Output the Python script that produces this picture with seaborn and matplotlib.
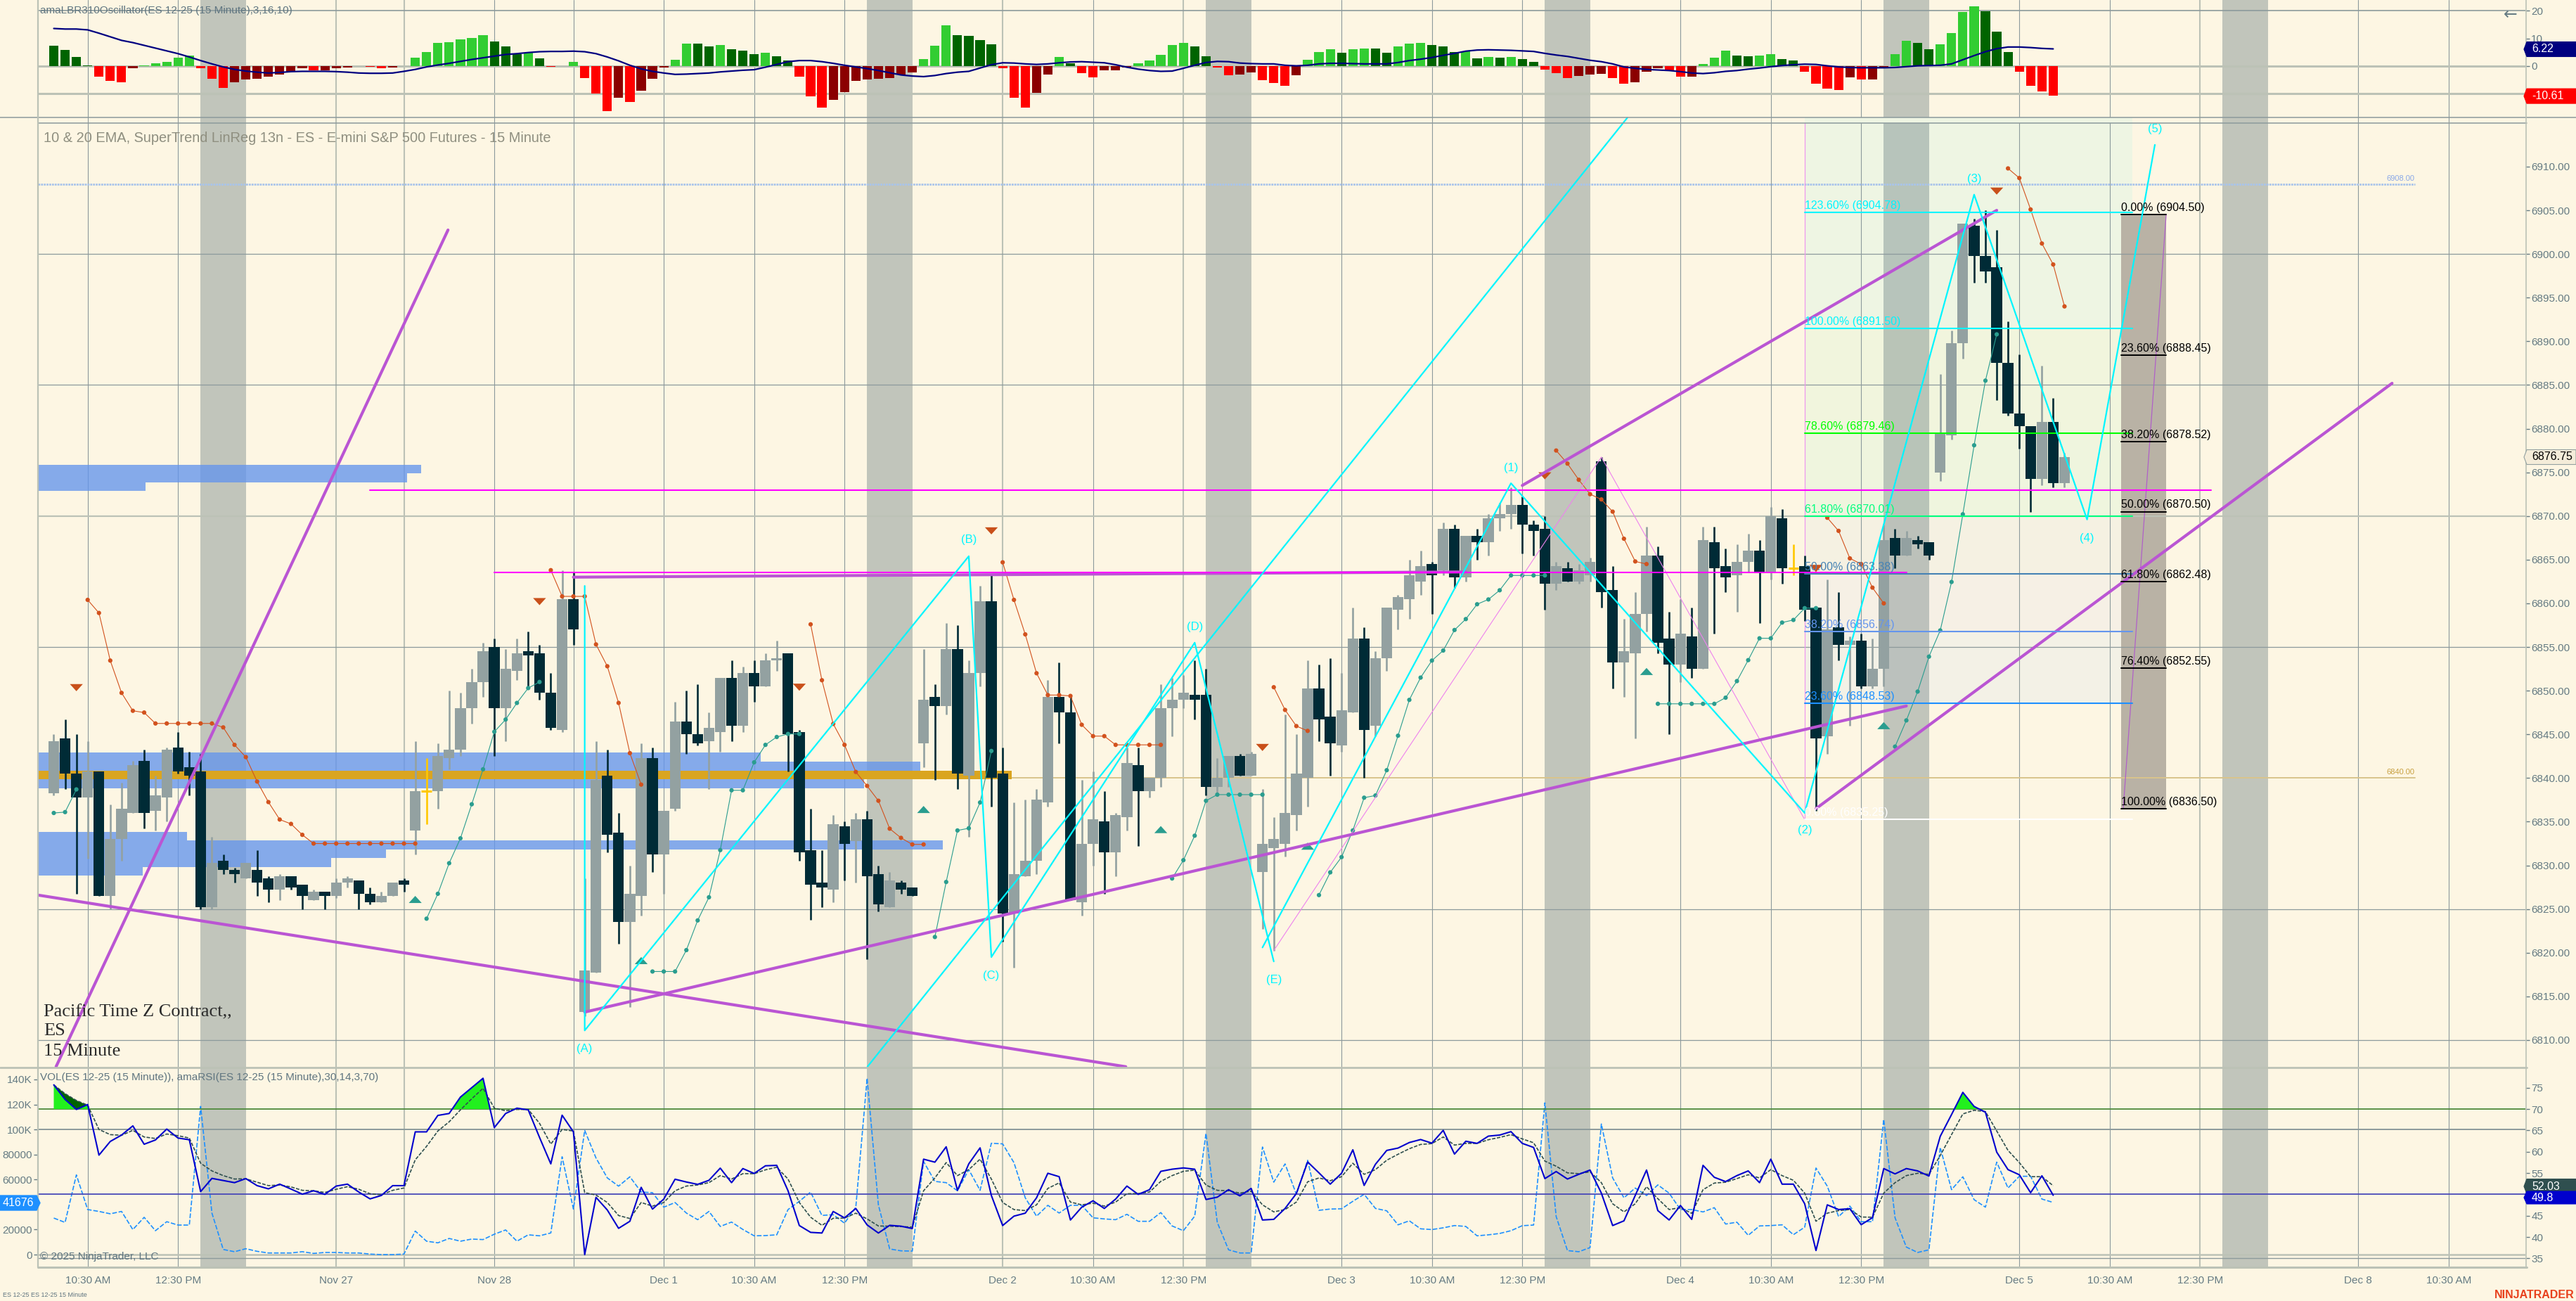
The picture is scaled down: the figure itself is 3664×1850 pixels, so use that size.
import numpy as np
import matplotlib
matplotlib.use("Agg")
import matplotlib.pyplot as plt
from matplotlib.lines import Line2D
from matplotlib.patches import Polygon
import seaborn as sns

W, H = 3664, 1850
BG = "#fdf6e3"
TXT = "#657b83"
GRID = "#8c9a9c"
LIGHT = "#bcc2b6"
CANDLE_UP = "#93a1a1"
CANDLE_DN = "#002b36"
DOJI = "#ffc800"
PURPLE = "#ba55d3"
CYAN = "#00f5ff"
MAGENTA = "#ff00ff"

# price bars, one per 15 minute session step
opens = [
    6838.25, 6844.5, 6840.5, 6837.75, 6840.75, 6826.5, 6833, 6836, 6842, 6836.25,
    6837.75, 6843.5, 6841.25, 6840.75, 6825.25, 6830.5, 6829.5, 6828.5, 6829.5, 6828.5,
    6827.25, 6828.75, 6827.75, 6826, 6827, 6826.5, 6828, 6828.25, 6826.75, 6825.75,
    6826.5, 6828.25, 6834, 6838.5, 6838.5, 6842.25, 6843.25, 6848, 6851, 6855,
    6848, 6852.25, 6854.5, 6854.25, 6849.75, 6845.5, 6860.5, 6813.25, 6817.75, 6840.25,
    6833.75, 6823.5, 6826.5, 6842.25, 6831.25, 6836.5, 6846.5, 6845, 6844.25, 6845.25,
    6851.5, 6846, 6852, 6850.5, 6853.5, 6854.25, 6845.25, 6831.75, 6828, 6827.25,
    6834.5, 6832.75, 6835.25, 6829, 6825.25, 6828, 6827.5, 6844, 6849.25, 6848.25,
    6854.75, 6840.25, 6852, 6860.25, 6840.5, 6824.5, 6828.75, 6830.5, 6837.25, 6849.25,
    6847.5, 6825.75, 6832.5, 6835, 6831.5, 6835.5, 6841.5, 6838.5, 6840, 6848,
    6849, 6849.5, 6849.5, 6839, 6840, 6842.5, 6840.25, 6829.25, 6832, 6832.5,
    6835.75, 6840, 6850.25, 6847, 6843.75, 6847.5, 6856, 6846, 6853.75, 6859.25,
    6860.5, 6862.5, 6864.5, 6863.75, 6868.5, 6863, 6867.75, 6867, 6869.75, 6870.25,
    6871.25, 6869, 6868.5, 6862.25, 6864, 6862.5, 6863.25, 6876.25, 6861.5, 6853.25,
    6854.25, 6858.75, 6865.5, 6856, 6853, 6856.25, 6852.5, 6867, 6864.25, 6863.25,
    6864.75, 6866, 6863.5, 6869.75, 6864, 6864.25, 6859.5, 6844.75, 6857.25, 6855.25,
    6855.75, 6850.5, 6852.5, 6867.5, 6865.5, 6867.25, 6867, 6875, 6879.25, 6889.75,
    6903.25, 6899.75, 6898.5, 6887.5, 6881.75, 6880.25, 6874.25, 6880.75, 6873.75,
]
highs = [
    6845, 6846.75, 6845, 6844.25, 6840.75, 6837, 6839.5, 6842, 6843.25, 6840.25,
    6843.5, 6845.25, 6843, 6842.75, 6833.25, 6831.25, 6829.75, 6830.25, 6831.75, 6828.75,
    6829, 6828.75, 6827.75, 6827.25, 6827, 6828.5, 6828.75, 6828.25, 6827.5, 6827,
    6828, 6828.5, 6844.25, 6842.25, 6844, 6850, 6849.75, 6852.5, 6855.5, 6856,
    6854.75, 6856, 6856.75, 6855.25, 6852, 6863.75, 6863.5, 6828.5, 6844.25, 6843.25,
    6836, 6830, 6844, 6843.5, 6836.25, 6848.75, 6850, 6850.75, 6847.5, 6851.5,
    6853.5, 6852.75, 6853.5, 6854.25, 6855.75, 6854.25, 6845.5, 6836.5, 6831.75, 6835.75,
    6835, 6836, 6836.25, 6830, 6829.25, 6828.25, 6827.5, 6854.75, 6850.75, 6857.75,
    6857.5, 6853.5, 6862, 6863.25, 6843.5, 6837.25, 6837.5, 6838.75, 6851.25, 6853.25,
    6849.25, 6839.75, 6840.75, 6838.5, 6836, 6843.5, 6843.5, 6840, 6850.75, 6851.5,
    6851.75, 6853.5, 6852.5, 6842.25, 6842.5, 6842.75, 6843, 6838.75, 6835.5, 6847.25,
    6845, 6853.5, 6853, 6853.75, 6852, 6859.5, 6857.25, 6854.5, 6859.5, 6861,
    6865, 6866, 6864.75, 6869.25, 6869, 6867.75, 6868.5, 6870.25, 6871.5, 6873.25,
    6872.25, 6869.5, 6870, 6864.75, 6864.75, 6864.5, 6865.25, 6876.75, 6864.25, 6858.25,
    6861.25, 6868.75, 6866.5, 6859, 6860.5, 6859.5, 6868.75, 6868.75, 6866.25, 6866.75,
    6868, 6867.25, 6871, 6870.75, 6866.75, 6865.5, 6859.5, 6862.75, 6861.25, 6856.25,
    6856.5, 6856, 6869, 6868.5, 6868.25, 6867.75, 6867, 6886.25, 6891.25, 6903.5,
    6904, 6905, 6902.75, 6892.25, 6888.5, 6880.25, 6887.25, 6883.5, 6877.25,
]
lows = [
    6838, 6838.75, 6826.75, 6830.75, 6826.5, 6825, 6830.5, 6836, 6834.25, 6834,
    6835, 6840.5, 6838, 6825, 6825, 6829, 6828, 6828.5, 6826.5, 6825.75,
    6826, 6827.25, 6825, 6826, 6825, 6826.25, 6827.5, 6825, 6825.5, 6825.75,
    6826.5, 6827, 6831.25, 6834.75, 6836.5, 6841, 6842.5, 6846.25, 6849.25, 6842.5,
    6844.25, 6851.25, 6850.25, 6849, 6845.5, 6845.25, 6855.25, 6812.75, 6817.75, 6831.5,
    6821, 6813.75, 6824.25, 6829.25, 6826.75, 6836.25, 6842.75, 6843.75, 6838.75, 6843,
    6844.25, 6845.25, 6848.75, 6850.5, 6852.25, 6840.75, 6830.5, 6823.75, 6825.25, 6825.75,
    6828.25, 6828, 6819.25, 6824.75, 6825.25, 6826.75, 6826.5, 6841.25, 6839.75, 6847.25,
    6838.75, 6833.25, 6850.5, 6836.75, 6821.25, 6818.25, 6828.75, 6829, 6836.75, 6844,
    6826, 6824.25, 6830, 6826.75, 6828.75, 6834, 6832.25, 6837.75, 6839, 6844.75,
    6848, 6846.75, 6838, 6838, 6839, 6840.25, 6840.25, 6822.75, 6820.25, 6831,
    6834, 6836.75, 6844.25, 6840.25, 6843, 6847.5, 6840, 6844.75, 6852.25, 6857,
    6858.25, 6861, 6858.75, 6863.25, 6861.75, 6862.5, 6865, 6865.5, 6868.25, 6868.5,
    6865.75, 6865.5, 6859.25, 6861.5, 6862.5, 6862.25, 6862.5, 6859.5, 6850.25, 6849.25,
    6844.5, 6856.75, 6854.25, 6845, 6851, 6851.5, 6852.5, 6856.5, 6861.25, 6859,
    6863.5, 6857.75, 6862.75, 6862.25, 6863.25, 6858, 6836.25, 6842.75, 6853.5, 6846,
    6850.25, 6850.25, 6850.5, 6864, 6865.5, 6866.25, 6865, 6874, 6878.75, 6888,
    6896.75, 6896.75, 6883.25, 6881.5, 6877.75, 6870.5, 6873.5, 6873.25, 6873.25,
]
closes = [
    6844.25, 6840.5, 6837.75, 6840.75, 6826.5, 6833, 6836.5, 6841.5, 6836, 6838,
    6843.25, 6840.75, 6840.25, 6825.25, 6830.25, 6829.5, 6829, 6830.25, 6828, 6827.25,
    6828.75, 6827.5, 6826.5, 6827, 6826.5, 6828, 6828.5, 6826.75, 6825.75, 6826.5,
    6828, 6827.75, 6838.5, 6838.5, 6842.5, 6843.25, 6848, 6851, 6854.5, 6848,
    6852.5, 6854.25, 6854, 6849.75, 6845.75, 6860.5, 6857, 6818, 6839.75, 6833.5,
    6823.5, 6826.75, 6842.25, 6831.25, 6836.25, 6846.5, 6845, 6844, 6845.75, 6851.5,
    6846, 6852, 6850.5, 6853.5, 6853.75, 6845, 6831.5, 6827.75, 6827.5, 6834.75,
    6832.5, 6835.25, 6828.75, 6825.5, 6828.25, 6827.25, 6826.5, 6849, 6848.25, 6854.75,
    6840.5, 6852, 6860.25, 6840, 6824.5, 6829, 6830.5, 6837.5, 6849.25, 6847.5,
    6826, 6832.5, 6835.25, 6831.5, 6835.75, 6841.75, 6838.5, 6840, 6848, 6849,
    6849.75, 6849, 6839, 6840, 6842.5, 6840.25, 6842.75, 6832.5, 6833, 6836,
    6840.5, 6850.25, 6846.75, 6844, 6847.75, 6856, 6845.5, 6853.75, 6859.5, 6860.75,
    6863.25, 6864.25, 6863.25, 6868.5, 6863, 6867.75, 6867, 6869.75, 6870.25, 6871.25,
    6869, 6868.25, 6862.25, 6864.25, 6862.5, 6863.75, 6864.75, 6861.25, 6853.25, 6854.5,
    6858.75, 6865.5, 6855.5, 6853, 6856.5, 6852.5, 6867.25, 6864, 6863, 6864.75,
    6866, 6863.5, 6870, 6864, 6864, 6859.25, 6844.5, 6857, 6855.25, 6855.75,
    6850.5, 6852.5, 6867.25, 6865.5, 6867.5, 6866.75, 6865.5, 6879.5, 6889.75, 6903.5,
    6899.75, 6898, 6887.5, 6881.75, 6880.25, 6874.25, 6880.75, 6873.75, 6876.75,
]
doji_bars = [33, 154]

# oscillator pane
osc_hist = [
    7.4, 5.85, 3.2, 0.25, -3.7, -5.3, -5.9, -0.85, 0.25, 0.93,
    1.5, 3.1, 3.7, -0.7, -4.5, -8, -5.9, -4.9, -4.5, -3.9,
    -3.05, -1.95, -0.75, -1.5, -1.5, -0.85, -0.4, 0.1, -0.25, -0.85,
    -0.4, 0.1, 3, 5.2, 8.4, 8.6, 9.7, 10.25, 11.1, 8.9,
    7, 4.4, 4.8, 2.8, -0.25, 0.1, 1.5, -4.3, -9.85, -16.3,
    -11.45, -13, -9, -4.5, -0.4, 2.2, 8.05, 8.05, 7.2, 7.6,
    6, 5.6, 4.3, 4.75, 3.55, 1.95, -3.9, -11, -15.1, -12.2,
    -9.4, -5.3, -4.9, -4.5, -4.3, -3.05, -2.3, 2.55, 7.4, 14.75,
    11.3, 10.85, 9.4, 7.9, -0.85, -11.35, -14.9, -9.65, -3.15, 3.3,
    1.1, -2.55, -4.15, -1.5, -1.5, -0.4, 1, 1.95, 4.15, 7.6,
    8.4, 7.2, 3.55, -0.5, -3.3, -2.95, -2.3, -5, -6, -7,
    -3.3, 2.3, 5.2, 6, 4.8, 6.2, 6.35, 6.25, 4.8, 7.2,
    8.05, 8.3, 7.6, 7, 5.1, 5.25, 2.8, 3.3, 3.1, 3.3,
    2.55, 1.5, -1.3, -2.55, -4.3, -3.55, -3.15, -2.8, -4.3, -6.25,
    -5.9, -1.95, -0.75, -1.7, -3.8, -3.8, 0.75, 3, 5.6, 3.8,
    3.55, 3.8, 4.25, 2.55, 1.95, -2.1, -6.35, -8.2, -8.65, -4.15,
    -4.85, -4.75, -0.7, 4.3, 9.05, 8.3, 6.2, 7.9, 11.95, 19.6,
    21.6, 19.9, 12.45, 5, -2.1, -7.2, -9.05, -10.61,
]
osc_signal = [
    13.6, 13.4, 13.4, 13.1, 11.9, 10.6, 9.3, 8.5, 7.5, 6.5,
    5.5, 4.5, 3.3, 2.0, 0.8, -0.3, -1.2, -1.8, -2.2, -2.5,
    -2.3, -2.0, -1.9, -1.9, -1.9, -2.0, -2.2, -2.5, -2.6, -2.6,
    -2.5, -1.9, -1.2, -0.3, 0.4, 1.0, 1.7, 2.4, 3.0, 3.6,
    4.2, 4.5, 4.9, 5.2, 5.3, 5.3, 5.4, 5.2, 4.5, 3.3,
    1.9, 0.3, -1.0, -1.9, -2.5, -3.0, -2.9, -2.7, -2.5, -2.1,
    -1.8, -1.5, -1.3, -0.4, 0.6, 1.6, 2.0, 2.0, 1.6, 1.0,
    0.3, -0.3, -0.9, -1.6, -2.4, -3.2, -3.6, -3.8, -3.4, -2.7,
    -2.2, -1.9, -0.7, 0.5, 1.2, 1.1, 0.8, 0.6, 0.8, 1.2,
    1.5, 1.6, 1.4, 1.2, 0.5, -0.4, -1.1, -1.6, -1.9, -1.8,
    -0.8, 0.3, 1.3, 1.7, 1.6, 1.1, 0.9, 0.8, 0.8, 0.3,
    0.1, 0.3, 0.8, 1.0, 1.0, 0.9, 0.8, 0.8, 0.8, 1.3,
    2.0, 2.5, 3.1, 3.9, 4.6, 5.4, 5.8, 5.9, 5.8, 5.7,
    5.5, 5.3, 4.6, 4.0, 3.5, 2.8, 2.1, 1.6, 0.8, -0.3,
    -0.8, -1.2, -1.4, -1.6, -2.0, -2.5, -2.7, -2.4, -1.9, -1.6,
    -1.1, -0.7, -0.2, 0.2, 0.5, 0.7, 0.6, 0.1, -0.3, -0.5,
    -0.6, -0.6, -0.6, -0.5, -0.2, 0.1, 0.2, 0.3, 0.8, 2.3,
    3.8, 5.2, 6.3, 6.9, 6.9, 6.7, 6.4, 6.22,
]

# volume (thousands) and RSI pane
volume_k = [
    29.2, 25.7, 63.7, 36, 34.5, 32.6, 34.5, 20, 29.8, 19.1,
    26.3, 23.6, 23.6, 118.5, 33.2, 4.1, 2.3, 4.7, 2.6, 1.3,
    1.3, 1.3, 2.3, 0.95, 1.7, 1.7, 1.3, 1.3, 0.4, 0,
    0, 0.4, 18.8, 10.7, 9.4, 12.9, 10.7, 12.4, 12, 16.3,
    19.7, 10.7, 15.8, 15, 17.3, 78.2, 36.4, 99.3, 77.2, 61.3,
    54.7, 62.2, 50, 49.5, 37.9, 41.6, 33.2, 27.9, 34.5, 22.5,
    26, 20.1, 15, 15.2, 15.8, 36, 42.6, 50, 31.3, 31.9,
    25.1, 37.9, 141, 39.7, 4.5, 3, 2.8, 74.4, 58.5, 57.5,
    51, 67.9, 51.4, 89, 88.5, 73.5, 45.4, 30.7, 39.4, 33.2,
    39.4, 39.4, 29.4, 28.5, 27.9, 32.2, 26.6, 26.6, 33.6, 22.9,
    19.1, 30.7, 96.9, 25.7, 3.8, 1.3, 1.3, 86, 57.9, 72.5,
    48.2, 75.4, 35.4, 36.4, 36.6, 42.6, 48.2, 36.9, 35, 23.8,
    27, 20.6, 20, 21.4, 23.2, 22.5, 15, 15.8, 16.9, 19.1,
    23.1, 23.6, 121.3, 30.4, 3.2, 2.3, 5.6, 104.4, 61.3, 45.4,
    53.2, 47.2, 55.7, 49.1, 36, 36, 34.1, 37.5, 24.4, 25.9,
    15.4, 22.9, 23.2, 23.8, 15.9, 21.9, 69.2, 54.7, 30.4, 38.8,
    26.3, 26.3, 108.1, 29.4, 6, 1.7, 3.8, 85.7, 51.9, 62.2,
    43.9, 37.9, 73.9, 53.2, 62.6, 62.6, 44.4, 41.68,
]
rsi_fast = [
    75.66, 72.25, 69.9, 71.05, 59.2, 62.4, 63.9, 66.05, 61.75, 62.75,
    65.3, 63.2, 62.8, 50.65, 53.75, 53.25, 52.75, 53.7, 52.05, 51.3,
    52.4, 51.25, 50.05, 50.85, 50, 51.95, 52.4, 50.55, 48.95, 49.75,
    52.05, 52.05, 64.65, 64.65, 68.5, 68.95, 72.8, 75, 77.2, 65.65,
    68.95, 70.2, 69.8, 63.35, 57.15, 68.55, 64.65, 35.9, 49.3, 46.35,
    42.05, 43.7, 51.65, 46.55, 48.9, 53.55, 52.9, 52.35, 53.3, 56.15,
    52.75, 56.05, 54.9, 56.7, 56.8, 50.85, 42.7, 41.1, 40.95, 46,
    44.5, 46.7, 42.85, 40.95, 42.75, 42.55, 42, 58.25, 57.55, 61.15,
    50.95, 57.15, 60.9, 49.75, 42.7, 44.9, 45.6, 49.2, 54.95, 54.15,
    44, 47, 48.5, 46.7, 48.9, 51.95, 50, 51.1, 55.4, 55.9,
    56.2, 55.9, 48.8, 49.35, 51.1, 49.65, 51.4, 44, 44.15, 46.7,
    50.2, 57.6, 55.05, 52.4, 54.95, 60.45, 52.1, 57.05, 60.3, 60.85,
    62.15, 62.85, 62, 65, 59.45, 62.45, 61.95, 63.65, 63.9, 64.7,
    61.95, 61, 53.7, 55.35, 53.6, 54.7, 55.7, 50.3, 42.7, 43.8,
    49.75, 55.7, 46.2, 44, 47.4, 44.15, 56.8, 54, 53, 54.4,
    55.5, 52.75, 58.25, 52.4, 52.4, 47.8, 36.85, 47.55, 46.45, 46.65,
    42.9, 44.55, 56.05, 54.8, 56.05, 55.5, 54.3, 63.6, 68.7, 73.9,
    70.6, 69.25, 59.9, 55.8, 54.6, 50.4, 54.35, 49.8,
]
rsi_avg = [
    75.66, 73.6, 72, 70.9, 65.2, 64, 63.85, 65, 63.45, 63.1,
    64.15, 63.75, 63.2, 57.3, 55.5, 54.4, 53.6, 53.65, 52.85, 52.05,
    52.2, 51.75, 50.95, 50.85, 50.45, 51.2, 51.8, 51.2, 50.15, 49.9,
    50.95, 51.5, 58.1, 61.25, 64.85, 67, 69.8, 72.4, 74.85, 70.2,
    69.6, 69.9, 69.9, 66.65, 61.8, 65.2, 64.85, 50.4, 49.85, 48.1,
    45.05, 44.35, 48.1, 47.25, 48.1, 50.85, 51.95, 52.2, 52.75, 54.4,
    53.6, 54.85, 54.85, 55.75, 56.35, 53.6, 48.1, 44.65, 42.75, 44.4,
    44.45, 45.6, 44.25, 42.6, 42.55, 42.45, 42.35, 50.85, 53.85, 57.45,
    54.4, 55.8, 58.25, 53.6, 48.1, 46.45, 46.2, 47.55, 51.4, 52.7,
    48.2, 47.55, 47.95, 47.25, 48.2, 50.15, 50.2, 50.55, 53.05, 54.4,
    55.4, 55.7, 52.2, 50.95, 50.85, 50.3, 50.75, 47.55, 45.9, 46.45,
    48.2, 52.95, 53.85, 53.2, 54.15, 57.3, 54.7, 55.8, 58, 59.4,
    60.7, 61.7, 61.9, 63.45, 61.55, 61.95, 61.95, 62.8, 63.35, 64,
    63, 62.1, 57.8, 56.6, 55.05, 54.85, 55.3, 52.75, 47.8, 45.9,
    47.8, 51.8, 49, 46.45, 46.9, 45.55, 51.1, 52.65, 52.85, 53.7,
    54.6, 53.85, 55.8, 54.4, 53.3, 50.3, 43.7, 45.6, 46.2, 46.45,
    44.7, 44.65, 50.3, 52.75, 54.4, 54.95, 54.7, 59.1, 64, 68.85,
    69.7, 69.4, 64.85, 60.3, 57.45, 54.15, 54.15, 52.03,
]

# SuperTrend stretches: first bar of each stretch, then its values
st_down_start = [3, 44, 67, 84, 108, 133, 157, 173]
st_down_vals = [
    [6860.4, 6858.9, 6853.45, 6849.75, 6847.7, 6847.5, 6846.25, 6846.25, 6846.25, 6846.25,
     6846.25, 6846.25, 6845.8, 6843.8, 6842.4, 6839.6, 6837.25, 6835.25, 6834.75, 6833.5,
     6832.5, 6832.5, 6832.5, 6832.5, 6832.5, 6832.5, 6832.5, 6832.5, 6832.5, 6832.5],
    [6863.8, 6860.8, 6860.8, 6860.8, 6855.3, 6852.8, 6848.6, 6842.85, 6839.25],
    [6857.6, 6851.2, 6846.2, 6843.8, 6840.7, 6839.1, 6837.4, 6834.2, 6833.15, 6832.4, 6832.4],
    [6864.7, 6860.4, 6856.45, 6852, 6849.5, 6849.5, 6849.4, 6846.1, 6844.8, 6844.8,
     6843.8, 6843.8, 6843.8, 6843.8, 6843.8],
    [6850.4, 6847.8, 6845.95, 6845.4],
    [6877.5, 6876, 6874.15, 6872.5, 6871.9, 6870.5, 6867.4, 6864.8, 6864.5],
    [6869.8, 6868.3, 6865.15, 6864.5, 6861.8, 6860],
    [6909.8, 6908.7, 6905.1, 6901.2, 6898.8, 6894],
]
st_up_start = [0, 33, 53, 78, 99, 112, 142, 163]
st_up_vals = [
    [6836, 6836.1, 6838.7],
    [6823.9, 6826.75, 6830.25, 6833.1, 6837, 6841, 6845.3, 6846.7, 6848.6, 6850.3, 6851],
    [6817.85, 6817.85, 6817.85, 6820.3, 6823.7, 6826.35, 6831.75, 6838.6, 6838.6, 6841.8,
     6843.8, 6844.7, 6845.05, 6845.05],
    [6821.8, 6828.1, 6834, 6834.25, 6837.2, 6843.1],
    [6828.5, 6830.6, 6833.4, 6837.4, 6838.1, 6838.1, 6838.1, 6838.1, 6838.1],
    [6826.6, 6829.2, 6830.95, 6834, 6837.75, 6838, 6840.9, 6844.85, 6848.95, 6851.5,
     6853.45, 6854.6, 6856.95, 6858.2, 6859.9, 6860.45, 6861.5, 6863.2, 6863.2, 6863.2, 6863.2],
    [6848.5, 6848.5, 6848.5, 6848.5, 6848.5, 6848.5, 6849.2, 6851.1, 6853.5, 6856, 6856,
     6857.8, 6858.1, 6859.45, 6859.45],
    [6843.6, 6846.6, 6849.9, 6853.9, 6856.9, 6862.45, 6870.2, 6878.1, 6885.5, 6890.8],
]
sell_bar = [2, 43, 66, 83, 107, 132, 156, 172]
sell_price = [6850.35, 6860.2, 6850.4, 6868.3, 6843.5, 6874.6, 6864, 6907.2]
buy_bar = [32, 52, 77, 98, 111, 141, 162]
buy_price = [6826.1, 6819.1, 6836.4, 6834.1, 6832.2, 6852.2, 6846]

# drawn tools: (bar, price) end points
wave_abcde_x = [47, 47, 81, 83, 101, 108]
wave_abcde_y = [6862, 6811.1, 6865.4, 6819.5, 6855.5, 6819]
wave_12345_x = [107, 129, 155, 170, 180, 186]
wave_12345_y = [6820.6, 6873.75, 6836, 6906.8, 6869.6, 6912.5]
wave_tags = ["(A)", "(B)", "(C)", "(D)", "(E)", "(1)", "(2)", "(3)", "(4)", "(5)"]
wave_tag_x = [47, 81, 83, 101, 108, 129, 155, 170, 180, 186]
wave_tag_y = [6808.95, 6867.25, 6817.4, 6857.3, 6816.9, 6875.5, 6834, 6908.6, 6867.45, 6914.3]
channel_x = [72.03, 139.3]
channel_y = [6806.95, 6915.6]
pink_x = [108, 137, 155]
pink_y = [6820.25, 6876.75, 6835.25]
pink2_x = [183.2, 187]
pink2_y = [6836.5, 6904.5]
trend_lines = [
    ([0.2, 34.9], [6806.95, 6902.75]),
    ([-1.4, 94.9], [6826.6, 6806.95]),
    ([47, 164], [6813.2, 6848.25]),
    ([130, 172], [6873.5, 6905]),
    ([156, 207], [6836.5, 6885.2]),
    ([46, 125], [6863, 6863.6]),
]
magenta_lines = [([28, 191], 6873), ([39, 164], 6863.5)]

# fib extension on the left, retracement on the right
ext_names = ["123.60%", "100.00%", "78.60%", "61.80%", "50.00%", "38.20%", "23.60%", "0.00%"]
ext_prices = [6904.78, 6891.50, 6879.46, 6870.01, 6863.38, 6856.74, 6848.53, 6835.25]
ext_colors = ["#00f5ff", "#00f5ff", "#00ff00", "#00ff7f", "#4682b4", "#6495ed", "#1e90ff", "#ffffff"]
ext_zone_top = [6915.6, 6891.5, 6879.46, 6870.01, 6863.38, 6856.74]
ext_zone_bot = [6891.5, 6879.46, 6870.01, 6863.38, 6856.74, 6848.53]
ext_zone_col = ["#eef5e3", "#f1f5dd", "#eff5de", "#f5f1e2", "#f6f0e5", "#f3f1e6"]
ret_names = ["0.00%", "23.60%", "38.20%", "50.00%", "61.80%", "76.40%", "100.00%"]
ret_prices = [6904.50, 6888.45, 6878.52, 6870.50, 6862.48, 6852.55, 6836.50]

# liquidity blocks: bar from, bar to, price top, price bottom
blocks_x0 = [-1.4, 8.1, 31.3, -1.4, 62.6, 71.7, -1.4, 7.9, 11.8, 24.55, 29.4]
blocks_x1 = [8.1, 31.3, 32.5, 62.6, 71.7, 76.7, 7.9, 11.8, 24.55, 29.4, 78.7]
blocks_top = [6875.85, 6875.85, 6875.85, 6842.9, 6841.9, 6841.9, 6833.8, 6833.8, 6832.85, 6832.85, 6832.85]
blocks_bot = [6872.85, 6873.85, 6874.87, 6838.8, 6838.8, 6840.8, 6828.85, 6829.8, 6829.8, 6830.85, 6831.85]

session_start = [13, 72, 102, 132, 162, 192]
session_end = [17, 76, 106, 136, 166, 196]
grid_bars = [3, 11, 25, 31, 39, 46, 54, 62, 70, 84, 92, 100, 114, 122, 130, 144, 152, 160,
             174, 182, 190, 204, 212]
grid_labels = ["10:30 AM", "12:30 PM", "Nov 27", "", "Nov 28", "", "Dec 1", "10:30 AM", "12:30 PM",
               "Dec 2", "10:30 AM", "12:30 PM", "Dec 3", "10:30 AM", "12:30 PM", "Dec 4",
               "10:30 AM", "12:30 PM", "Dec 5", "10:30 AM", "12:30 PM", "Dec 8", "10:30 AM"]
light_grid = [25, 31, 84, 100, 190]
price_ticks = list(range(6810, 6915, 5))
price_grid = [6825, 6855, 6885, 6900, 6810]
osc_ticks = [20, 10, 0, -10]
vol_ticks = [0, 20, 40, 60, 80, 100, 120, 140]
vol_tick_labels = ["0", "20000", "", "60000", "80000", "100K", "120K", "140K"]
rsi_ticks = [35, 40, 45, 55, 60, 65, 70, 75]

sns.set_theme(style="white", rc={"axes.facecolor": BG, "figure.facecolor": BG})
plt.rcParams["font.family"] = ["Liberation Sans", "DejaVu Sans"]

bars = np.arange(len(closes))
XMIN, XMAX = -1.4, 218.8


def panel(top, bottom):
    return fig.add_axes([54 / W, 1 - bottom / H, (3592 - 54) / W, (bottom - top) / H])


def line(ax, x, y, **kw):
    sns.lineplot(x=x, y=y, ax=ax, estimator=None, sort=False, legend=False, **kw)


def base_style(ax):
    for bar in grid_bars:
        if bar in light_grid:
            ax.axvline(bar, color=LIGHT, lw=1.5, zorder=1.1)
        else:
            ax.axvline(bar, color=GRID, lw=0.8, zorder=1.1)
    for a, b in zip(session_start, session_end):
        ax.axvspan(a, b, color="#586e75", alpha=0.36, lw=0, zorder=1)
    for side in ax.spines:
        ax.spines[side].set_visible(False)
    ax.tick_params(axis="both", colors=TXT, labelsize=11, labelcolor=TXT, length=4, width=1, pad=2)
    ax.set_xticks([])
    ax.set_xlabel("")
    ax.set_ylabel("")


def fig_text(x, y, s, **kw):
    kw.setdefault("va", "center")
    return fig.text(x / W, 1 - y / H, s, **kw)


def flag(y, s, fc, tc, h=21, edge=None):
    tip = 3590
    pts = [(tip, y), (tip + 4, y - h / 2), (W, y - h / 2), (W, y + h / 2), (tip + 4, y + h / 2)]
    fig.add_artist(Polygon([(a / W, 1 - b / H) for a, b in pts], closed=True, facecolor=fc,
                           edgecolor=edge or fc, lw=0.8, transform=fig.transFigure, zorder=5))
    fig_text(3601, y, s, color=tc, fontsize=11.5, zorder=6)


fig = plt.figure(figsize=(W / 100, H / 100), dpi=100)

# --- oscillator pane
ax_osc = panel(0, 175)
base_style(ax_osc)
osc = np.array(osc_hist)
prev = np.r_[osc[0] + 1, osc[:-1]]
osc_kind = np.where(osc >= 0, np.where(osc > prev, "#32cd32", "#006400"), np.where(osc < prev, "#ff0000", "#8b0000"))
ax_osc.bar(bars[:len(osc)], osc, width=0.82, color=list(osc_kind), lw=0, zorder=3)
ax_osc.axhline(20, color=GRID, lw=1.2, zorder=1.2)
ax_osc.axhline(0, color=LIGHT, lw=2.2, zorder=2)
ax_osc.axhline(-10, color=LIGHT, lw=2.2, zorder=2)
line(ax_osc, bars[:len(osc_signal)], osc_signal, color="#000080", lw=1.6, zorder=4)
ax_osc.set_xlim(XMIN, XMAX)
ax_osc.set_ylim(-20.6, 23.9)
ax_osc.yaxis.tick_right()
ax_osc.set_yticks(osc_ticks)
ax_osc.set_yticklabels([str(v) for v in osc_ticks])
ax_osc.set_xticks([])
ax_osc.set_xlabel("")
ax_osc.set_ylabel("")

# --- price pane
ax = panel(175, 1517.7)
base_style(ax)
for top, bot, col in zip(ext_zone_top, ext_zone_bot, ext_zone_col):
    ax.fill_between([155, 184], bot, top, color=col, lw=0, zorder=0.5, clip_on=False)
ax.fill_between([183, 187], ret_prices[-1], ret_prices[0], color="#b9b2a5", lw=0, zorder=0.6)
for level in price_grid:
    ax.axhline(level, color=GRID, lw=0.9, zorder=1.1)
ax.axhline(6870, color=LIGHT, lw=1.6, zorder=1.1)
for x0, x1, top, bot in zip(blocks_x0, blocks_x1, blocks_top, blocks_bot):
    ax.fill_between([x0, x1], bot, top, color="#6495ed", alpha=0.78, lw=0, zorder=1.3)
ax.fill_between([XMIN, 84.8], 6839.9, 6840.8, color="#daa520", lw=0, zorder=1.4)
ax.plot([84.8, 209], [6840, 6840], color="#d9c48c", lw=1.4, zorder=1.2)
ax.plot([XMIN, 209], [6908, 6908], color="#a9c4ea", lw=2, ls=(0, (1, 0.4)), zorder=1.2)

o, h, l, c = map(np.array, (opens, highs, lows, closes))
colors = np.where(c >= o, CANDLE_UP, CANDLE_DN).astype(object)
colors[doji_bars] = DOJI
body_mask = np.ones(len(c), dtype=bool)
body_mask[doji_bars] = False
ax.vlines(bars, l, h, colors=list(colors), lw=1.9, zorder=3)
ax.bar(bars[body_mask], (c - o)[body_mask], bottom=o[body_mask], width=0.95,
       color=list(colors[body_mask]), lw=0, zorder=3.1)
ax.hlines(c[doji_bars], bars[doji_bars] - 0.45, bars[doji_bars] + 0.45, colors=DOJI, lw=2.2, zorder=3.2)

for start, vals in zip(st_down_start, st_down_vals):
    xs = np.arange(start, start + len(vals))
    line(ax, xs, vals, color="#d2521e", lw=0.8, zorder=4.4)
    sns.scatterplot(x=xs, y=vals, ax=ax, color="#d2521e", s=20, edgecolor="none", legend=False, zorder=4.5)
for start, vals in zip(st_up_start, st_up_vals):
    xs = np.arange(start, start + len(vals))
    line(ax, xs, vals, color="#2a9d8f", lw=0.8, zorder=4.4)
    sns.scatterplot(x=xs, y=vals, ax=ax, color="#2a9d8f", s=20, edgecolor="none", legend=False, zorder=4.5)
tri_up = np.array([(-1, -0.55), (1, -0.55), (0, 0.55), (-1, -0.55)])
tri_dn = np.array([(-1, 0.55), (1, 0.55), (0, -0.55), (-1, 0.55)])
sns.scatterplot(x=sell_bar, y=sell_price, ax=ax, color="#c9501a", marker=tri_dn, s=175,
                edgecolor="none", legend=False, zorder=4.6)
sns.scatterplot(x=buy_bar, y=buy_price, ax=ax, color="#2a9d8f", marker=tri_up, s=175,
                edgecolor="none", legend=False, zorder=4.6)

for xs, ys in trend_lines:
    line(ax, xs, ys, color=PURPLE, lw=3, zorder=5)
for (xs, y) in magenta_lines:
    line(ax, xs, [y, y], color=MAGENTA, lw=1.5, zorder=5.1)
line(ax, pink_x, pink_y, color="#ee82ee", lw=0.8, zorder=4.8)
line(ax, pink2_x, pink2_y, color="#b060c8", lw=0.9, zorder=4.8)
ax.plot([155, 155], [6835.25, 6915], color="#ee9aee", lw=0.9, zorder=1.2)
line(ax, wave_abcde_x, wave_abcde_y, color=CYAN, lw=1.6, zorder=5.2)
line(ax, wave_12345_x, wave_12345_y, color=CYAN, lw=1.6, zorder=5.2)
line(ax, channel_x, channel_y, color=CYAN, lw=1.6, zorder=5.2, clip_on=False)
for tag, x, y in zip(wave_tags, wave_tag_x, wave_tag_y):
    ax.text(x, y, tag, color=CYAN, fontsize=12, ha="center", va="center", zorder=6)

for name, price, col in zip(ext_names, ext_prices, ext_colors):
    ax.plot([155, 184], [price, price], color=col, lw=1.5, zorder=5)
    ax.annotate(f"{name} ({price:.2f})", (155, price), xytext=(0, 1.5), textcoords="offset points",
                color=col, fontsize=11.5, ha="left", va="bottom", zorder=6)
for name, price in zip(ret_names, ret_prices):
    ax.plot([183, 187], [price, price], color="black", lw=1.4, zorder=5)
    ax.annotate(f"{name} ({price:.2f})", (183, price), xytext=(0, 1.5), textcoords="offset points",
                color="black", fontsize=11.5, ha="left", va="bottom", zorder=6)
ax.text(206.5, 6908.6, "6908.00", color="#8aa8e8", fontsize=8, ha="left", va="center")
ax.text(206.5, 6840.7, "6840.00", color="#c8a040", fontsize=8, ha="left", va="center")

ax.set_xlim(XMIN, XMAX)
ax.set_ylim(6806.88, 6914.99)
ax.yaxis.tick_right()
ax.set_yticks(price_ticks)
ax.set_yticklabels([f"{v}.00" for v in price_ticks])
ax.set_xticks([])
ax.set_xlabel("")
ax.set_ylabel("")

# --- volume and RSI pane
ax_vol = panel(1517.7, 1801.7)
base_style(ax_vol)
ax_vol.axhline(100, color=GRID, lw=1.4, zorder=1.2)
ax_vol.axhline(0, color=LIGHT, lw=1.8, zorder=1.2)
line(ax_vol, bars[:len(volume_k)], volume_k, color="#1e90ff", lw=1.2, linestyle=(0, (4, 1.5)), zorder=3)
ax_vol.set_xlim(XMIN, XMAX)
ax_vol.set_ylim(-9.95, 149.7)
ax_vol.set_yticks(vol_ticks)
ax_vol.set_yticklabels(vol_tick_labels)
ax_vol.set_xticks(grid_bars)
ax_vol.set_xticklabels(grid_labels)
ax_vol.tick_params(axis="x", length=4, pad=5)
ax_vol.set_xlabel("")
ax_vol.set_ylabel("")

ax_rsi = ax_vol.twinx()
for side in ax_rsi.spines:
    ax_rsi.spines[side].set_visible(False)
fast, slow = np.array(rsi_fast), np.array(rsi_avg)
xr = bars[:len(fast)]
ax_rsi.fill_between(xr, 70, fast, where=fast > 70, interpolate=True, color="#22f01e", lw=0, zorder=3)
ax_rsi.fill_between(xr, np.maximum(fast, 70), slow, where=(slow > fast) & (slow > 70), interpolate=True,
                    color="#006400", lw=0, zorder=3.1)
ax_rsi.axhline(70, color="#4f8a3c", lw=1.3, zorder=2)
ax_rsi.axhline(50, color="#4a4ab8", lw=1.3, zorder=2)
ax_rsi.axhline(35, color=GRID, lw=1, zorder=2)
line(ax_rsi, xr, rsi_avg, color="#2f4f4f", lw=1.2, linestyle=(0, (3, 1.2)), zorder=4)
line(ax_rsi, xr, rsi_fast, color="#0000cd", lw=1.5, zorder=4.1)
ax_rsi.set_xlim(XMIN, XMAX)
ax_rsi.set_ylim(32.98, 79.77)
ax_rsi.set_yticks(rsi_ticks)
ax_rsi.set_yticklabels([str(v) for v in rsi_ticks])
ax_rsi.tick_params(axis="y", colors=TXT, labelsize=11, labelcolor=TXT, length=4, width=1, pad=2)
ax_rsi.set_xlabel("")
ax_rsi.set_ylabel("")

# --- frame lines
for y0, x0, x1, col, lw in [(167, 0, W, GRID, 1.1), (175, 54, 3594, GRID, 1.1),
                            (1517.7, 0, 3594, LIGHT, 2), (1801.7, 54, 3594, LIGHT, 2.2)]:
    fig.add_artist(Line2D([x0 / W, x1 / W], [1 - y0 / H] * 2, color=col, lw=lw, transform=fig.transFigure, zorder=2))
fig.add_artist(Line2D([54 / W] * 2, [1 - 1801.7 / H, 1], color=LIGHT, lw=1.6, transform=fig.transFigure, zorder=2))
fig.add_artist(Line2D([3593 / W] * 2, [1 - 1801.7 / H, 1], color=LIGHT, lw=1.2, transform=fig.transFigure, zorder=2))

# --- labels
fig_text(57, 15, "amaLBR310Oscillator(ES 12-25 (15 Minute),3,16,10)", color="#5f7580", fontsize=11)
fig_text(62, 197, "10 & 20 EMA, SuperTrend LinReg 13n - ES - E-mini S&P 500 Futures - 15 Minute",
         color="#8f8f80", fontsize=14.4)
fig_text(57, 1532, "VOL(ES 12-25 (15 Minute)), amaRSI(ES 12-25 (15 Minute),30,14,3,70)", color="#5f7580", fontsize=11)
fig_text(57, 1787, "\u00a9 2025 NinjaTrader, LLC", color="#5f7580", fontsize=11)
fig_text(4, 1842, "ES 12-25 ES 12-25 15 Minute", color="#5f7580", fontsize=6.5)
for y, s in [(1439, "Pacific Time Z Contract,,"), (1466, "ES"), (1495, "15 Minute")]:
    fig_text(62, y, s, color="#2b2b2b", fontsize=19, family="Liberation Serif")
fig_text(3548, 1841, "NINJATRADER", color="#e8401c", fontsize=11.5, weight="bold")
fig_text(3571, 21, "\u2190", color="#657b83", fontsize=17, ha="center", family="DejaVu Sans")

flag(70, "6.22", "#000080", "white")
flag(136.6, "-10.61", "#ff0000", "white")
flag(650, "6876.75", "#f4ecd9", "black", edge="#93a1a1")
flag(1687, "52.03", "#2f4f4f", "white")
flag(1703, "49.8", "#0000cd", "white", h=18)
pts = [(0, 1700), (52, 1700), (57, 1710.5), (52, 1721), (0, 1721)]
fig.add_artist(Polygon([(a / W, 1 - b / H) for a, b in pts], closed=True, facecolor="#1e90ff",
                       edgecolor="#1e90ff", transform=fig.transFigure, zorder=5))
fig_text(4, 1710.5, "41676", color="white", fontsize=11.5, zorder=6)

fig.savefig("out.png", dpi=100, facecolor=BG)
